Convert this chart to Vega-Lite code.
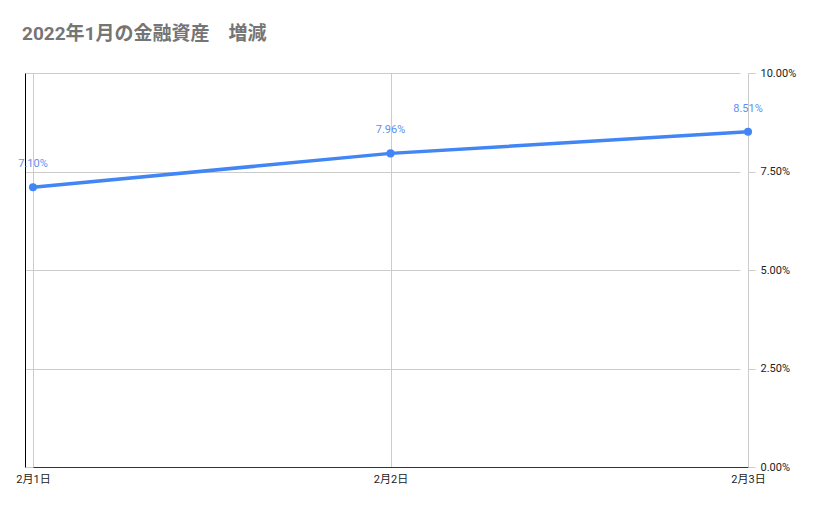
{
  "$schema": "https://vega.github.io/schema/vega-lite/v6.json",
  "autosize": "none",
  "padding": {"left": 25, "top": 73, "right": 81, "bottom": 47},
  "width": 723,
  "height": 394,
  "background": "white",
  "title": {
    "text": "2022年1月の金融資産　増減",
    "anchor": "start",
    "frame": "group",
    "offset": 23,
    "dx": -3,
    "font": "Roboto, Noto Sans CJK JP",
    "fontSize": 19,
    "fontWeight": "bold",
    "color": "#757575"
  },
  "config": {
    "view": {"stroke": null},
    "font": "Roboto, Noto Sans CJK JP",
    "axis": {"labelFont": "Roboto, Noto Sans CJK JP", "labelFontSize": 11, "labelColor": "#222222"}
  },
  "data": {
    "values": [
      {"date": "2月1日", "rate": 0.0710},
      {"date": "2月2日", "rate": 0.0796},
      {"date": "2月3日", "rate": 0.0851}
    ]
  },
  "layer": [
    {
      "mark": {"type": "line", "color": "#4285f4", "strokeWidth": 3.5},
      "encoding": {
        "x": {
          "field": "date",
          "type": "ordinal",
          "sort": null,
          "scale": {"type": "point", "padding": 0, "range": [8, 723]},
          "axis": {
            "title": null,
            "labelAngle": 0,
            "ticks": false,
            "grid": true,
            "gridColor": "#cccccc",
            "domainColor": "#333333",
            "labelPadding": 6
          }
        },
        "y": {
          "field": "rate",
          "type": "quantitative",
          "scale": {"domain": [0, 0.1], "nice": false},
          "axis": {
            "orient": "right",
            "title": null,
            "format": ".2%",
            "values": [0, 0.025, 0.05, 0.075, 0.1],
            "domain": false,
            "tickSize": 7,
            "tickColor": "#cccccc",
            "grid": true,
            "gridColor": "#cccccc",
            "labelPadding": 5
          }
        }
      }
    },
    {
      "mark": {"type": "point", "filled": true, "size": 65, "color": "#4285f4", "opacity": 1},
      "encoding": {
        "x": {"field": "date", "type": "ordinal", "sort": null},
        "y": {"field": "rate", "type": "quantitative", "axis": null}
      }
    },
    {
      "mark": {"type": "text", "dy": -23, "fontSize": 11, "color": "#5b8ff0", "font": "Roboto"},
      "encoding": {
        "x": {"field": "date", "type": "ordinal", "sort": null},
        "y": {"field": "rate", "type": "quantitative", "axis": null},
        "text": {"field": "rate", "type": "quantitative", "format": ".2%"}
      }
    },
    {
      "mark": {"type": "point", "opacity": 0},
      "encoding": {
        "x": {"field": "date", "type": "ordinal", "sort": null},
        "y": {
          "field": "rate",
          "type": "quantitative",
          "axis": {
            "orient": "left",
            "title": null,
            "labels": false,
            "ticks": false,
            "grid": false,
            "domainColor": "#000000"
          }
        }
      }
    }
  ],
  "resolve": {"axis": {"y": "independent"}}
}
